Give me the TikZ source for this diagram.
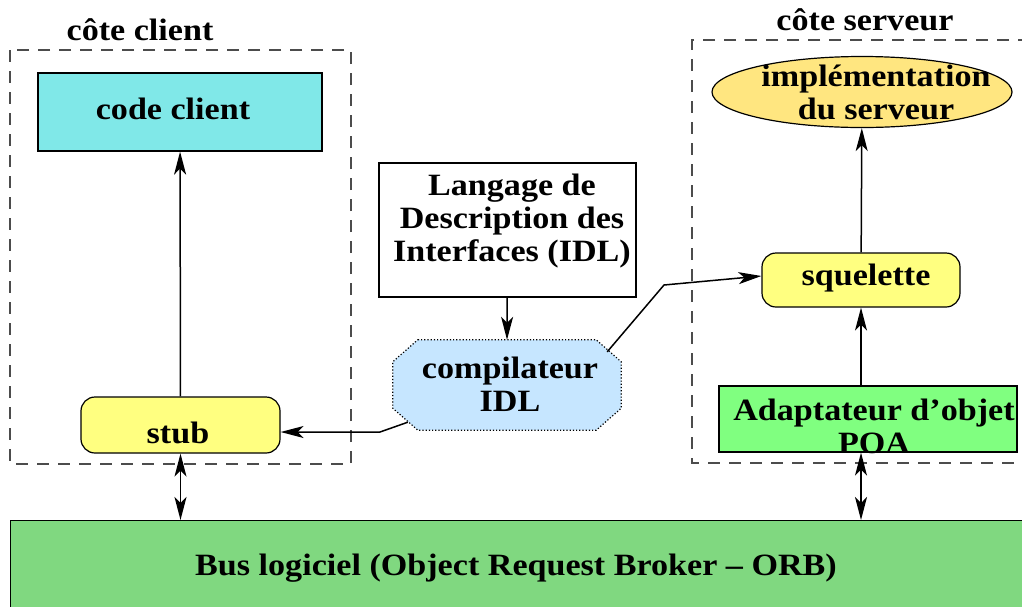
\documentclass[tikz,border=0pt]{standalone}
\usepackage{fontspec}
\setmainfont{Liberation Serif}[FakeStretch=1.1]
\usetikzlibrary{positioning,shapes.geometric,arrows.meta}
\definecolor{cliCyan}{RGB}{128,232,232}
\definecolor{stubYellow}{RGB}{255,255,128}
\definecolor{implYellow}{RGB}{255,230,128}
\definecolor{compBlue}{RGB}{198,230,255}
\definecolor{poaGreen}{RGB}{128,255,128}
\definecolor{busGreen}{RGB}{128,216,128}
\tikzset{tip/.tip={Stealth[length=23pt,width=12pt,inset=6pt]}}

\begin{document}
\begin{tikzpicture}[x=1pt,y=-1pt,
	every node/.style={font=\bfseries\fontsize{31}{33}\selectfont,align=center,inner sep=0pt},
	zone/.style={draw=black!70,dash pattern=on 12pt off 9pt,line width=1.3pt},
	box/.style={draw,line width=1.2pt},
	rbox/.style={draw,line width=1.2pt,rounded corners=14pt},
	link/.style={line width=1.5pt}]
		\useasboundingbox (0,0) rectangle (1022,606);
		% zones
		\draw[zone] (10,50) rectangle (351,464);
		\draw[zone] (1030,40) -- (692,40) -- (692,463) -- (1030,463);
		\node (cli) at (140,30) {côte client};
		\node (srv) at (865,20) {côte serveur};
		% bus
		\node[box,fill=busGreen,anchor=north west,minimum width=1030,minimum height=100] (bus) at (10,520) {};
		\node (bustxt) at (516,568) {Bus logiciel (Object Request Broker \textendash{} ORB)};
		% client side
		\node[box,fill=cliCyan,minimum width=284,minimum height=78] (code) at (180,112) {};
		\node (codetxt) at (173,109) {code client};
		\node[rbox,fill=stubYellow,minimum width=199,minimum height=56] (stub) at (180.5,425) {};
		\node (stubtxt) at (178,433) {stub};
		% IDL
		\node[box,fill=white,minimum width=257,minimum height=134] (idl) at (507.5,230) {};
		\node (idltxt) at (512,221) {Langage de\\Description des\\Interfaces (IDL)};
		\node[minimum width=228,minimum height=90] (comp) at (507,385) {};
		\draw[dotted,line width=1.2pt,fill=compBlue]
			([xshift=25pt]comp.north west) -- ([xshift=-25pt]comp.north east)
			-- ([yshift=-22pt]comp.north east) -- ([yshift=22pt]comp.south east)
			-- ([xshift=-25pt]comp.south east) -- ([xshift=25pt]comp.south west)
			-- ([yshift=22pt]comp.south west) -- ([yshift=-22pt]comp.north west) -- cycle;
		\node (comptxt) at (510,384) {compilateur\\IDL};
		% server side
		\node[ellipse,draw,line width=1.2pt,fill=implYellow,minimum width=300,minimum height=71] (impl) at (862,92) {};
		\node (impltxt) at (876,92) {implémentation\\du serveur};
		\node[rbox,fill=stubYellow,minimum width=198,minimum height=54] (squel) at (861,280) {};
		\node (squeltxt) at (866,278) {squelette};
		\node[box,fill=poaGreen,minimum width=298,minimum height=66] (poa) at (868,419) {};
		\node (poatxt) at (874,426) {Adaptateur d’objet\\POA};
		% arrows
		\coordinate (bendL) at (380,432);
		\coordinate (bendR) at (664,285);
		\draw[link,-tip] (stub) -- (code);
		\draw[link,-tip] (idl) -- (comp.north);
		\draw[link,-tip] ([xshift=15pt,yshift=8pt]comp.south west) -- (bendL) -- (bendL -| stub.east);
		\draw[link,-tip] ([xshift=-14pt,yshift=-12pt]comp.north east) -- (bendR) -- ([yshift=4pt]squel.west);
		\draw[link,-tip] (squel) -- (impl);
		\draw[link,-tip] (squel.south |- poa.north) -- (squel.south);
		\draw[link,tip-tip] (stub.south) -- (stub.south |- bus.north);
		\draw[link,tip-tip] (squel.south |- poa.south) -- (squel.south |- bus.north);
\end{tikzpicture}
\end{document}
